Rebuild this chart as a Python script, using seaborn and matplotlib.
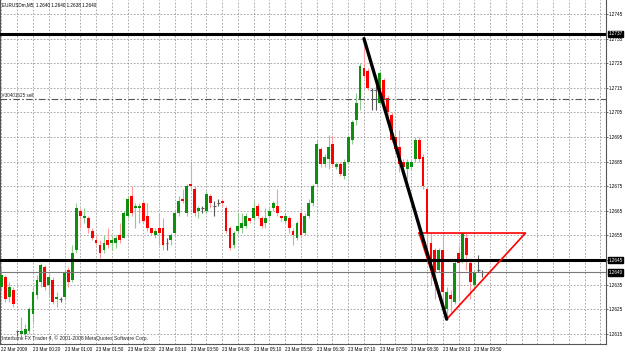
import numpy as np
import pandas as pd
import matplotlib
matplotlib.use("Agg")
import matplotlib.pyplot as plt
import matplotlib.transforms as mtransforms
import seaborn as sns

# ---------------- data ----------------
title_text = "EURUSDm,M5  1.2640 1.2640 1.2638 1.2640"
copyright_text = "Interbank FX Trader 4, \u00a9 2001-2008 MetaQuotes Software Corp."
order_text = "#30401625 sell"

opens = [1.2634, 1.2638, 1.2630, 1.2633, 1.2616, 1.2615, 1.2615, 1.2616, 1.2623, 1.2631,
         1.2636, 1.2642, 1.2635, 1.2637, 1.2629, 1.2629, 1.2630, 1.2641, 1.2637, 1.2649,
         1.2665, 1.2662, 1.2662, 1.2657, 1.2653, 1.2651, 1.2649, 1.2653, 1.2652, 1.2652,
         1.2655, 1.2654, 1.2663, 1.2671, 1.2666, 1.2666, 1.2668, 1.2663, 1.2658, 1.2655,
         1.2658, 1.2658, 1.2652, 1.2653, 1.2656, 1.2664, 1.2670, 1.2664, 1.2676, 1.2674,
         1.2665, 1.2666, 1.2665, 1.2671, 1.2667, 1.2668, 1.2669, 1.2666, 1.2658, 1.2651,
         1.2657, 1.2658, 1.2659, 1.2662, 1.2662, 1.2667, 1.2662, 1.2660, 1.2663, 1.2666,
         1.2667, 1.2663, 1.2661, 1.2662, 1.2657, 1.2654, 1.2664, 1.2656, 1.2663, 1.2668,
         1.2676, 1.2690, 1.2684, 1.2686, 1.2692, 1.2683, 1.2684, 1.2679, 1.2685, 1.2694,
         1.2702, 1.2710, 1.2723, 1.2722, 1.2714, 1.2714, 1.2709, 1.2718, 1.2711, 1.2704,
         1.2695, 1.2691, 1.2685, 1.2682, 1.2683, 1.2686, 1.2694, 1.2687, 1.2674, 1.2652,
         1.2649, 1.2641, 1.2649, 1.2625, 1.2631, 1.2628, 1.2648, 1.2645, 1.2654, 1.2644,
         1.2635, 1.2641, 1.2640]
highs = [1.2642, 1.2639, 1.2636, 1.2634, 1.2616, 1.2622, 1.2619, 1.2626, 1.2634, 1.2639,
         1.2644, 1.2643, 1.2640, 1.2638, 1.2632, 1.2630, 1.2641, 1.2642, 1.2651, 1.2668,
         1.2666, 1.2666, 1.2663, 1.2658, 1.2655, 1.2653, 1.2655, 1.2658, 1.2655, 1.2655,
         1.2660, 1.2665, 1.2671, 1.2675, 1.2668, 1.2668, 1.2669, 1.2668, 1.2658, 1.2658,
         1.2664, 1.2662, 1.2654, 1.2656, 1.2665, 1.2671, 1.2674, 1.2676, 1.2684, 1.2675,
         1.2667, 1.2667, 1.2673, 1.2672, 1.2669, 1.2670, 1.2670, 1.2667, 1.2659, 1.2657,
         1.2664, 1.2664, 1.2664, 1.2662, 1.2669, 1.2668, 1.2663, 1.2666, 1.2666, 1.2669,
         1.2674, 1.2663, 1.2664, 1.2663, 1.2658, 1.2661, 1.2666, 1.2664, 1.2670, 1.2676,
         1.2694, 1.2691, 1.2688, 1.2696, 1.2696, 1.2685, 1.2685, 1.2686, 1.2696, 1.2702,
         1.2713, 1.2725, 1.2735, 1.2723, 1.2715, 1.2716, 1.2722, 1.2719, 1.2712, 1.2705,
         1.2698, 1.2698, 1.2686, 1.2686, 1.2686, 1.2695, 1.2695, 1.2688, 1.2675, 1.2656,
         1.2650, 1.2650, 1.2656, 1.2634, 1.2633, 1.2645, 1.2651, 1.2656, 1.2656, 1.2646,
         1.2641, 1.2647, 1.2641]
lows = [1.2633, 1.2628, 1.2628, 1.2626, 1.2614, 1.2614, 1.2614, 1.2615, 1.2620, 1.2629,
        1.2634, 1.2633, 1.2631, 1.2627, 1.2626, 1.2628, 1.2629, 1.2634, 1.2636, 1.2648,
        1.2658, 1.2660, 1.2656, 1.2653, 1.2651, 1.2646, 1.2648, 1.2650, 1.2649, 1.2650,
        1.2652, 1.2654, 1.2662, 1.2663, 1.2658, 1.2660, 1.2660, 1.2657, 1.2655, 1.2654,
        1.2651, 1.2649, 1.2649, 1.2651, 1.2655, 1.2663, 1.2668, 1.2663, 1.2674, 1.2663,
        1.2662, 1.2664, 1.2664, 1.2666, 1.2663, 1.2667, 1.2667, 1.2656, 1.2649, 1.2650,
        1.2656, 1.2656, 1.2658, 1.2660, 1.2661, 1.2662, 1.2658, 1.2658, 1.2662, 1.2665,
        1.2663, 1.2661, 1.2660, 1.2656, 1.2651, 1.2653, 1.2654, 1.2655, 1.2662, 1.2667,
        1.2675, 1.2683, 1.2683, 1.2682, 1.2683, 1.2682, 1.2679, 1.2678, 1.2684, 1.2692,
        1.2700, 1.2706, 1.2719, 1.2714, 1.2706, 1.2706, 1.2708, 1.2709, 1.2704, 1.2693,
        1.2689, 1.2681, 1.2682, 1.2678, 1.2682, 1.2685, 1.2685, 1.2674, 1.2646, 1.2635,
        1.2629, 1.2640, 1.2625, 1.2621, 1.2624, 1.2627, 1.2629, 1.2644, 1.2641, 1.2629,
        1.2634, 1.2640, 1.2638]
closes = [1.2639, 1.2629, 1.2634, 1.2627, 1.2616, 1.2616, 1.2617, 1.2625, 1.2632, 1.2637,
          1.2643, 1.2634, 1.2638, 1.2628, 1.2630, 1.2629, 1.2640, 1.2636, 1.2648, 1.2666,
          1.2663, 1.2663, 1.2658, 1.2654, 1.2652, 1.2648, 1.2652, 1.2651, 1.2653, 1.2654,
          1.2653, 1.2664, 1.2670, 1.2664, 1.2667, 1.2667, 1.2661, 1.2658, 1.2656, 1.2657,
          1.2656, 1.2651, 1.2652, 1.2655, 1.2664, 1.2669, 1.2669, 1.2675, 1.2675, 1.2664,
          1.2666, 1.2666, 1.2672, 1.2668, 1.2667, 1.2668, 1.2668, 1.2657, 1.2650, 1.2656,
          1.2659, 1.2660, 1.2663, 1.2661, 1.2666, 1.2663, 1.2659, 1.2662, 1.2665, 1.2668,
          1.2664, 1.2662, 1.2663, 1.2658, 1.2655, 1.2660, 1.2655, 1.2663, 1.2668, 1.2675,
          1.2692, 1.2684, 1.2687, 1.2691, 1.2684, 1.2684, 1.2680, 1.2685, 1.2695, 1.2701,
          1.2709, 1.2724, 1.2720, 1.2715, 1.2714, 1.2714, 1.2721, 1.2710, 1.2705, 1.2694,
          1.2690, 1.2684, 1.2683, 1.2685, 1.2685, 1.2694, 1.2686, 1.2675, 1.2656, 1.2644,
          1.2640, 1.2649, 1.2632, 1.2632, 1.2629, 1.2644, 1.2644, 1.2656, 1.2647, 1.2636,
          1.2640, 1.2641, 1.2640]

time_labels = ["22 Mar 2009", "23 Mar 00:20", "23 Mar 01:00", "23 Mar 01:50",
               "23 Mar 02:30", "23 Mar 03:10", "23 Mar 03:50", "23 Mar 04:30",
               "23 Mar 05:10", "23 Mar 05:50", "23 Mar 06:30", "23 Mar 07:10",
               "23 Mar 07:50", "23 Mar 08:30", "23 Mar 09:10", "23 Mar 09:50"]
time_label_bars = [0, 8, 16, 24, 32, 40, 48, 56, 64, 72, 80, 88, 96, 104, 112, 120]
price_ticks = [1.2615, 1.2625, 1.2635, 1.2645, 1.2655, 1.2665, 1.2675,
               1.2685, 1.2695, 1.2705, 1.2715, 1.2725, 1.2735, 1.2745]

hline_levels = [1.2737, 1.2645]
current_price = 1.2640
order_price = 1.27104
trend_bars = [92, 113]
trend_prices = [1.2735, 1.2621]
triangle_bars = [106, 133, 113, 106]
triangle_prices = [1.2656, 1.2656, 1.2621, 1.2656]

# ---------------- style ----------------
sns.set_theme(style="white")
FONT = ["Liberation Sans", "DejaVu Sans"]
plt.rcParams["font.family"] = FONT
FS = 3.3

df = pd.DataFrame({"bar": np.arange(len(opens)), "open": opens, "high": highs,
                   "low": lows, "close": closes})

fig = plt.figure(figsize=(6.25, 3.55), dpi=100)
ax = fig.add_axes([0.0, 11 / 355, 606 / 625, 344 / 355])
ax.set_facecolor("white")

BULL_BODY, BULL_WICK = "#0f8f0f", "#8fca8f"
BEAR_BODY, BEAR_WICK = "#ff0000", "#ff9a9a"
DOJI = "#5a5a5a"
W = 0.72

for r in df.itertuples():
    if r.close > r.open:
        bc, wc = BULL_BODY, BULL_WICK
    elif r.close < r.open:
        bc, wc = BEAR_BODY, BEAR_WICK
    else:
        bc, wc = DOJI, DOJI
    ax.vlines(r.bar, r.low, r.high, color=wc, lw=0.8, zorder=3)
    if r.close == r.open:
        ax.hlines(r.open, r.bar - W / 2, r.bar + W / 2, color=DOJI, lw=0.8, zorder=4)
    else:
        ax.bar(r.bar, abs(r.close - r.open), bottom=min(r.open, r.close), width=W,
               color=bc, lw=0, zorder=4)

# horizontal objects
for lv in hline_levels:
    ax.axhline(lv, color="black", lw=2.2, zorder=6)
ax.axhline(current_price, color="#7a7a7a", lw=0.8, zorder=5)
ax.axhline(order_price, color="#555555", lw=0.8, ls=(0, (6, 2, 1.5, 2)), zorder=5)

# triangle & trend line
sns.lineplot(x=triangle_bars, y=triangle_prices, sort=False, estimator=None,
             color="#ff0000", lw=1.2, ax=ax, zorder=7)
sns.lineplot(x=trend_bars, y=trend_prices, sort=False, estimator=None,
             color="black", lw=2.4, ax=ax, zorder=8)

# axes limits
x0 = -0.38
ax.set_xlim(x0, x0 + 606 / 3.94)
ax.set_ylim(1.26109, 1.27507)

# ticks & grid
ax.set_xticks(time_label_bars)
ax.set_xticklabels(time_labels, fontsize=FS, ha="left")
ax.set_xticks(np.arange(0, 154, 4), minor=True)
ax.set_yticks(price_ticks)
ax.set_yticklabels([f"{p:.4f}" for p in price_ticks], fontsize=FS)
ax.yaxis.tick_right()
ax.tick_params(axis="x", which="major", length=1.5, width=0.5, color="#333333",
               pad=1.0, labelcolor="black")
ax.tick_params(axis="x", which="minor", length=0)
ax.tick_params(axis="y", which="major", length=1.5, width=0.5, color="#333333",
               pad=0.6, labelcolor="black")
ax.grid(True, which="both", axis="x", color="#9a9a9a", lw=0.6, ls=(0, (2, 2)), zorder=1)
ax.grid(True, which="major", axis="y", color="#9a9a9a", lw=0.6, ls=(0, (2, 2)), zorder=1)

for s in ax.spines.values():
    s.set_color("#555555")
    s.set_linewidth(0.8)
ax.spines["top"].set_visible(False)

# price boxes on right axis
trans = mtransforms.blended_transform_factory(ax.transAxes, ax.transData)
for lv in hline_levels + [current_price]:
    ax.text(1.004, lv, f"{lv:.4f}", transform=trans, fontsize=FS, color="white",
            va="center", ha="left", clip_on=False, zorder=20,
            bbox=dict(boxstyle="square,pad=0.15", fc="black", ec="black"))

# texts
ax.text(2 / 606, 1 - 5 / 344, title_text, transform=ax.transAxes, fontsize=FS,
        va="center", ha="left", color="black")
ax.text(2 / 606, 6 / 344, copyright_text, transform=ax.transAxes, fontsize=3.6,
        va="center", ha="left", color="#222222")
ax.text(2 / 606, order_price + 0.00003, order_text, transform=trans, fontsize=FS,
        va="bottom", ha="left", color="#222222")

fig.savefig("out.png", dpi=100, facecolor="white")
